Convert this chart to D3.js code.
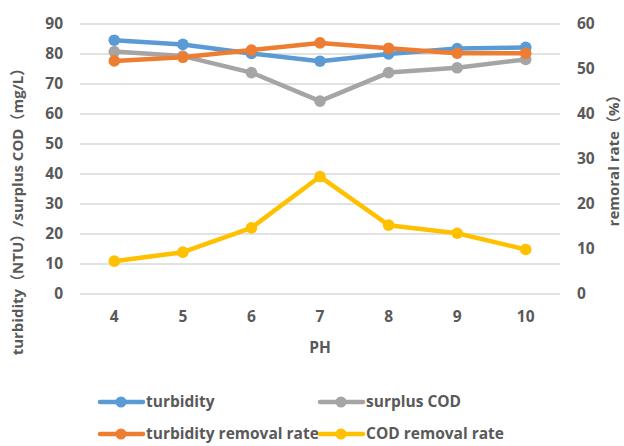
<!DOCTYPE html>
<html>
<head>
<meta charset="utf-8">
<script src="https://cdn.jsdelivr.net/npm/d3@7"></script>
<style>
  body { margin: 0; background: #fff; }
  text { font-family: "Open Sans", "Noto Sans", "Noto Sans CJK SC", sans-serif; font-weight: bold; fill: #595959; }
</style>
</head>
<body>
<script>
// data
const phValues = [4, 5, 6, 7, 8, 9, 10];
const turbidity = [84.6, 83.2, 80.2, 77.6, 80.0, 81.8, 82.2];
const surplusCOD = [80.8, 79.3, 73.8, 64.3, 73.8, 75.4, 78.2];
const turbidityRemoval = [51.8, 52.6, 54.2, 55.8, 54.6, 53.5, 53.5];
const codRemoval = [7.3, 9.3, 14.7, 26.1, 15.3, 13.5, 9.9];
const leftTicks = [0, 10, 20, 30, 40, 50, 60, 70, 80, 90];
const rightTicks = [0, 10, 20, 30, 40, 50, 60];

const width = 624, height = 446;
const plot = { left: 80, right: 560, top: 24, bottom: 294 };

const svg = d3.select("body").append("svg")
  .attr("width", width)
  .attr("height", height);

// scales
const x = d3.scalePoint()
  .domain(phValues)
  .range([plot.left, plot.right])
  .padding(0.5);
const yLeft = d3.scaleLinear().domain([0, 90]).range([plot.bottom, plot.top]);
const yRight = d3.scaleLinear().domain([0, 60]).range([plot.bottom, plot.top]);

// gridlines
svg.append("g")
  .selectAll("line")
  .data(leftTicks)
  .join("line")
  .attr("x1", plot.left)
  .attr("x2", plot.right)
  .attr("y1", d => yLeft(d))
  .attr("y2", d => yLeft(d))
  .attr("stroke", "#d9d9d9")
  .attr("stroke-width", 1.3);

// left axis labels
svg.append("g")
  .selectAll("text")
  .data(leftTicks)
  .join("text")
  .attr("x", 63)
  .attr("y", d => yLeft(d))
  .attr("dy", "0.35em")
  .attr("text-anchor", "end")
  .style("font-size", "15.5px")
  .text(d => d);

// right axis labels
svg.append("g")
  .selectAll("text")
  .data(rightTicks)
  .join("text")
  .attr("x", 577)
  .attr("y", d => yRight(d))
  .attr("dy", "0.35em")
  .attr("text-anchor", "start")
  .style("font-size", "15.5px")
  .text(d => d);

// x axis labels
svg.append("g")
  .selectAll("text")
  .data(phValues)
  .join("text")
  .attr("x", d => x(d))
  .attr("y", 317)
  .attr("dy", "0.35em")
  .attr("text-anchor", "middle")
  .style("font-size", "15.5px")
  .text(d => d);

// axis titles
svg.append("text")
  .attr("x", 320)
  .attr("y", 348)
  .attr("dy", "0.35em")
  .attr("text-anchor", "middle")
  .style("font-size", "15.5px")
  .text("PH");

svg.append("text")
  .attr("transform", "translate(18,208) rotate(-90)")
  .attr("dy", "0.35em")
  .attr("text-anchor", "middle")
  .style("font-size", "15px")
  .text("turbidity（NTU）/surplus COD（mg/L）");

svg.append("text")
  .attr("transform", "translate(614,157) rotate(-90)")
  .attr("dy", "0.35em")
  .attr("text-anchor", "middle")
  .style("font-size", "15px")
  .text("remoral rate（%）");

// series
const series = [
  { name: "turbidity", values: turbidity, y: yLeft, color: "#5b9bd5" },
  { name: "surplus COD", values: surplusCOD, y: yLeft, color: "#a5a5a5" },
  { name: "turbidity removal rate", values: turbidityRemoval, y: yRight, color: "#ed7d31" },
  { name: "COD removal rate", values: codRemoval, y: yRight, color: "#ffc000" }
];

series.forEach(s => {
  const line = d3.line()
    .x((d, i) => x(phValues[i]))
    .y(d => s.y(d));

  const g = svg.append("g");
  g.append("path")
    .datum(s.values)
    .attr("d", line)
    .attr("fill", "none")
    .attr("stroke", s.color)
    .attr("stroke-width", 4.5)
    .attr("stroke-linejoin", "round")
    .attr("stroke-linecap", "round");

  g.selectAll("circle")
    .data(s.values)
    .join("circle")
    .attr("cx", (d, i) => x(phValues[i]))
    .attr("cy", d => s.y(d))
    .attr("r", 5.8)
    .attr("fill", s.color);
});

// legend
const legendPos = [
  { x: 100, y: 402 },
  { x: 320, y: 402 },
  { x: 100, y: 434 },
  { x: 320, y: 434 }
];

const legend = svg.append("g")
  .selectAll("g")
  .data(series)
  .join("g")
  .attr("transform", (d, i) => `translate(${legendPos[i].x},${legendPos[i].y})`);

legend.append("line")
  .attr("x1", 0)
  .attr("x2", 43)
  .attr("stroke", d => d.color)
  .attr("stroke-width", 4.5)
  .attr("stroke-linecap", "round");

legend.append("circle")
  .attr("cx", 21)
  .attr("r", 5.5)
  .attr("fill", d => d.color);

legend.append("text")
  .attr("x", 46)
  .attr("dy", "0.35em")
  .style("font-size", "15.5px")
  .text(d => d.name);
</script>
</body>
</html>
